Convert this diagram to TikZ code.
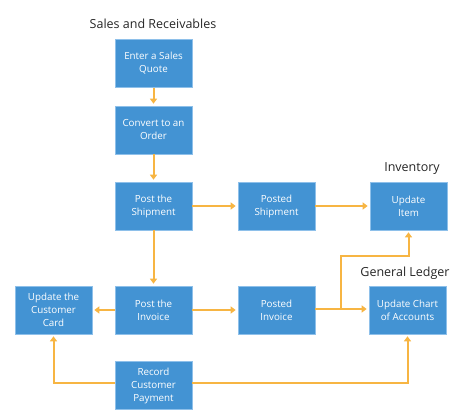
\documentclass[tikz,border=0pt]{standalone}
\usepackage{fontspec}
\setmainfont{Open Sans}
\usetikzlibrary{arrows.meta}
\definecolor{boxblue}{HTML}{4393D3}
\definecolor{boxedge}{HTML}{8EC0EA}
\definecolor{arr}{HTML}{F7B543}
\begin{document}
\begin{tikzpicture}[x=1pt,y=-1pt,
  box/.style={draw=boxedge,line width=0.6pt,fill=boxblue,text=white,minimum width=77pt,minimum height=48pt,align=center,font=\fontsize{9.8}{13}\selectfont,inner sep=1pt},
  ttl/.style={font=\fontsize{12.5}{14}\selectfont,text=black!85},
  conn/.style={draw=arr,line width=2pt,shorten >=2pt,-{Triangle[length=5pt,width=7pt]}}]
\useasboundingbox (0,0) rectangle (468,419);
\node[ttl] (t1) at (153,24) {Sales and Receivables};
\node[ttl] (t2) at (412,169) {Inventory};
\node[ttl] (t3) at (405,273) {General Ledger};
\node[box] (quote) at (153.5,63.5) {Enter a Sales\\Quote};
\node[box] (order) at (153.5,130) {Convert to an\\Order};
\node[box] (ship) at (153.5,206) {Post the\\Shipment};
\node[box] (pship) at (276.5,206) {Posted\\Shipment};
\node[box] (item) at (408.5,206) {Update\\Item};
\node[box] (inv) at (153.5,310) {Post the\\Invoice};
\node[box] (card) at (53.5,310) {Update the\\Customer\\Card};
\node[box] (pinv) at (276.5,310) {Posted\\Invoice};
\node[box] (chart) at (407.5,310) {Update Chart\\of Accounts};
\node[box] (pay) at (153.5,385.5) {Record\\Customer\\Payment};
\coordinate (br) at (341,309);
\draw[conn] (quote) -- (order);
\draw[conn] (order) -- (ship);
\draw[conn] (ship) -- (pship);
\draw[conn] (pship) -- (item);
\draw[conn] (ship) -- (inv);
\draw[conn] (inv) -- (card);
\draw[conn] (inv) -- (pinv);
\draw[conn] (pinv.east |- 0,309) -- (chart.west |- 0,309);
\draw[conn] (br) -- (341,256) -| (item.south);
\draw[conn] (pay.west |- 0,383) -| (card.south);
\draw[conn] (pay.east |- 0,383) -| (chart.south);
\end{tikzpicture}
\end{document}
